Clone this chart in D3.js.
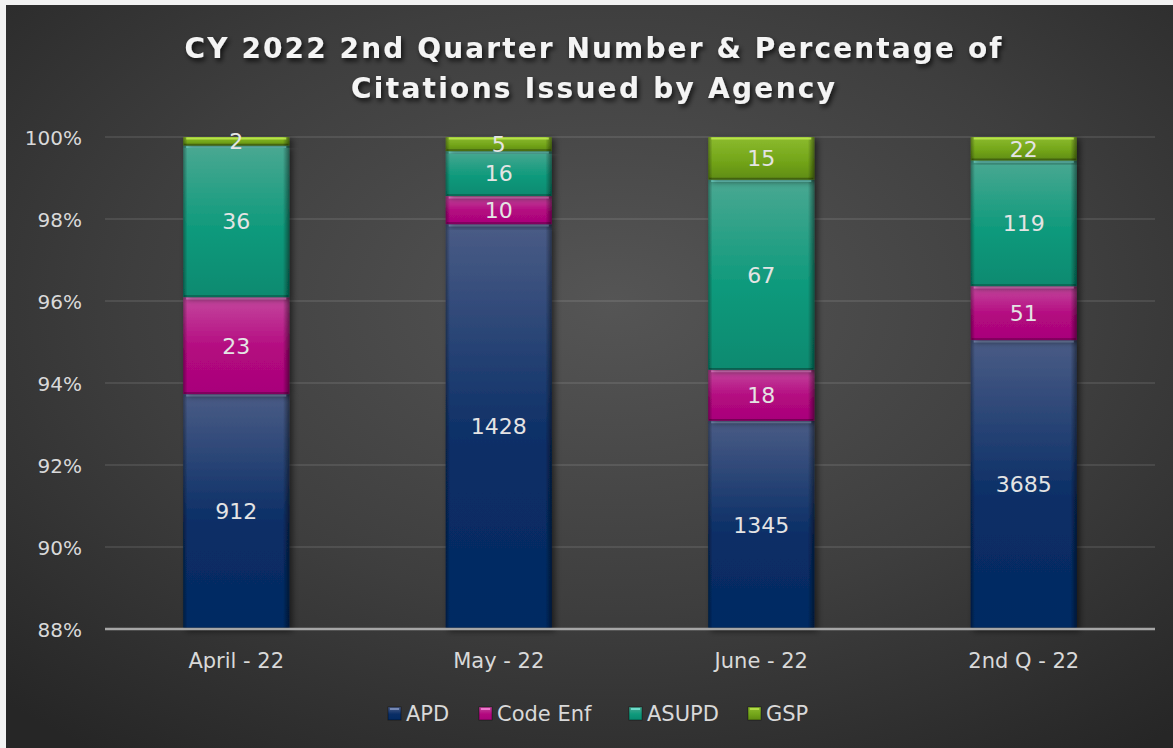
<!DOCTYPE html>
<html><head><meta charset="utf-8">
<script src="https://cdn.jsdelivr.net/npm/d3@7"></script>
<style>
html,body{margin:0;padding:0;background:#f2f2f2;}
svg{display:block;}
text{font-family:"Century Gothic","DejaVu Sans",sans-serif;}
</style></head>
<body>
<svg id="chart" width="1173" height="748"></svg>
<script>
const categories = ["April - 22","May - 22","June - 22","2nd Q - 22"];
const seriesNames = ["APD","Code Enf","ASUPD","GSP"];
const APD     = [912, 1428, 1345, 3685];
const CodeEnf = [23, 10, 18, 51];
const ASUPD   = [36, 16, 67, 119];
const GSP     = [2, 5, 15, 22];
const yTicks = [88, 90, 92, 94, 96, 98, 100];
const titleLines = ["CY 2022 2nd Quarter Number & Percentage of","Citations Issued by Agency"];

const colors = {
  "APD":      {top:"#4a5c86", base:"#0a2e66", bot:"#032a62", hl:"#8a9cc8"},
  "Code Enf": {top:"#c4489e", base:"#b3087f", bot:"#a8047a", hl:"#ff8ee0"},
  "ASUPD":    {top:"#4aa892", base:"#0f9a7c", bot:"#088a70", hl:"#7ff0e0"},
  "GSP":      {top:"#8cbb2e", base:"#74a61a", bot:"#5f8c12", hl:"#c0ea50"}
};
const FONT = '"Century Gothic","DejaVu Sans",sans-serif';

const svg = d3.select("#chart");
const W = 1173, H = 748;
const defs = svg.append("defs");

// background
const bg = defs.append("radialGradient").attr("id","bg").attr("cx","52%").attr("cy","40%").attr("r","75%");
bg.append("stop").attr("offset","0%").attr("stop-color","#555555");
bg.append("stop").attr("offset","55%").attr("stop-color","#3e3e3e");
bg.append("stop").attr("offset","100%").attr("stop-color","#262626");
svg.append("rect").attr("x",6).attr("y",5).attr("width",W-6).attr("height",H-5).attr("fill","url(#bg)");

seriesNames.forEach((s,i)=>{
  const c = colors[s];
  const g = defs.append("linearGradient").attr("id","g"+i).attr("x1",0).attr("y1",0).attr("x2",0).attr("y2",1);
  g.append("stop").attr("offset","0%").attr("stop-color",c.top);
  g.append("stop").attr("offset","55%").attr("stop-color",c.base);
  g.append("stop").attr("offset","100%").attr("stop-color",c.bot);
  const h = defs.append("linearGradient").attr("id","h"+i).attr("x1",0).attr("y1",0).attr("x2",1).attr("y2",0);
  h.append("stop").attr("offset","0%").attr("stop-color","#000").attr("stop-opacity",0.35);
  h.append("stop").attr("offset","4%").attr("stop-color","#000").attr("stop-opacity",0);
  h.append("stop").attr("offset","94%").attr("stop-color","#000").attr("stop-opacity",0);
  h.append("stop").attr("offset","100%").attr("stop-color","#000").attr("stop-opacity",0.45);
});

const shadow = defs.append("filter").attr("id","shadow").attr("x","-20%").attr("y","-20%").attr("width","140%").attr("height","140%");
shadow.append("feDropShadow").attr("dx",3).attr("dy",2).attr("stdDeviation",3).attr("flood-color","#000").attr("flood-opacity",0.55);
const tshadow = defs.append("filter").attr("id","tshadow").attr("x","-10%").attr("y","-30%").attr("width","120%").attr("height","160%");
tshadow.append("feDropShadow").attr("dx",2).attr("dy",3).attr("stdDeviation",2.5).attr("flood-color","#000").attr("flood-opacity",0.75);

// title
const title = svg.append("g").attr("filter","url(#tshadow)");
const titleWidths = [817, 484];
titleLines.forEach((t,i)=>{
  title.append("text").attr("x",593).attr("y",58+i*40).attr("text-anchor","middle")
    .attr("fill","#f4f4f4").attr("font-size",28).attr("font-weight","bold")
    .attr("textLength",titleWidths[i]).attr("lengthAdjust","spacing").text(t);
});

const x = d3.scaleBand().domain(categories).range([105,1155]).paddingInner(0.596).paddingOuter(0.298);
const y = d3.scaleLinear().domain([88,100]).range([629,137]).clamp(true);

svg.append("g").selectAll("line").data(yTicks.filter(d=>d>88)).join("line")
  .attr("x1",105).attr("x2",1155).attr("y1",d=>y(d)).attr("y2",d=>y(d))
  .attr("stroke","#ffffff").attr("stroke-opacity",0.13).attr("stroke-width",1.5);

const yAxis = d3.axisLeft(y).tickValues(yTicks).tickFormat(d=>d+"%").tickSize(0).tickPadding(0);
const ya = svg.append("g").attr("transform","translate(82,0)").call(yAxis);
ya.select(".domain").remove();
ya.selectAll("text").attr("fill","#d9d9d9").attr("font-size",20).attr("font-family",FONT).attr("dy","0.35em");

const table = categories.map((c,i)=>{
  const tot = APD[i]+CodeEnf[i]+ASUPD[i]+GSP[i];
  return {cat:c, "APD":APD[i], "Code Enf":CodeEnf[i], "ASUPD":ASUPD[i], "GSP":GSP[i], total:tot};
});
const pct = table.map(d=>{
  const o = {cat:d.cat};
  seriesNames.forEach(s=>o[s]=d[s]/d.total*100);
  return o;
});
const stack = d3.stack().keys(seriesNames)(pct);

const bars = svg.append("g");
stack.forEach((layer,si)=>{
  const c = colors[seriesNames[si]];
  const g = bars.append("g");
  layer.forEach((seg,ci)=>{
    const x0 = x(categories[ci]), bw = x.bandwidth();
    const yt = y(seg[1]), yb = y(Math.max(seg[0],88));
    const h = yb - yt;
    const sg = g.append("g").attr("filter","url(#shadow)");
    sg.append("rect").attr("x",x0).attr("y",yt).attr("width",bw).attr("height",h).attr("fill","url(#g"+si+")");
    sg.append("rect").attr("x",x0).attr("y",yt).attr("width",bw).attr("height",h).attr("fill","url(#h"+si+")");
    g.append("line").attr("x1",x0+3).attr("x2",x0+bw-3).attr("y1",yt+1.5).attr("y2",yt+1.5)
      .attr("stroke",c.hl).attr("stroke-width",2).attr("stroke-opacity",0.85);
    g.append("line").attr("x1",x0+1).attr("x2",x0+bw-1).attr("y1",yb-1).attr("y2",yb-1)
      .attr("stroke","#000").attr("stroke-width",1.5).attr("stroke-opacity",0.3);
  });
});

const lab = svg.append("g");
stack.forEach((layer,si)=>{
  const key = seriesNames[si];
  layer.forEach((seg,ci)=>{
    const yt = y(seg[1]), yb = y(Math.max(seg[0],88));
    lab.append("text").attr("x",x(categories[ci])+x.bandwidth()/2).attr("y",(yt+yb)/2)
      .attr("dy","0.36em").attr("text-anchor","middle").attr("fill","#e4e4e4").attr("font-size",22)
      .text(table[ci][key]);
  });
});

svg.append("line").attr("x1",105).attr("x2",1155).attr("y1",629).attr("y2",629)
  .attr("stroke","#a6a6a6").attr("stroke-width",2.5);
const xAxis = d3.axisBottom(x).tickSize(0).tickPadding(0);
const xa = svg.append("g").attr("transform","translate(0,668)").call(xAxis);
xa.select(".domain").remove();
xa.selectAll("text").attr("fill","#d9d9d9").attr("font-size",21).attr("font-family",FONT).attr("dy",0);

const legX = [388, 479, 629, 748];
const leg = svg.append("g");
seriesNames.forEach((s,i)=>{
  const g = leg.append("g").attr("transform",`translate(${legX[i]},707)`);
  g.append("rect").attr("width",13).attr("height",13).attr("fill","url(#g"+i+")").attr("stroke","#000").attr("stroke-opacity",0.4);
  g.append("line").attr("x1",2).attr("x2",11).attr("y1",2).attr("y2",2).attr("stroke",colors[s].hl).attr("stroke-width",1.5);
  g.append("text").attr("x",18).attr("y",6.5).attr("dy","0.36em").attr("fill","#d9d9d9").attr("font-size",21).text(s);
});
</script>
</body></html>
